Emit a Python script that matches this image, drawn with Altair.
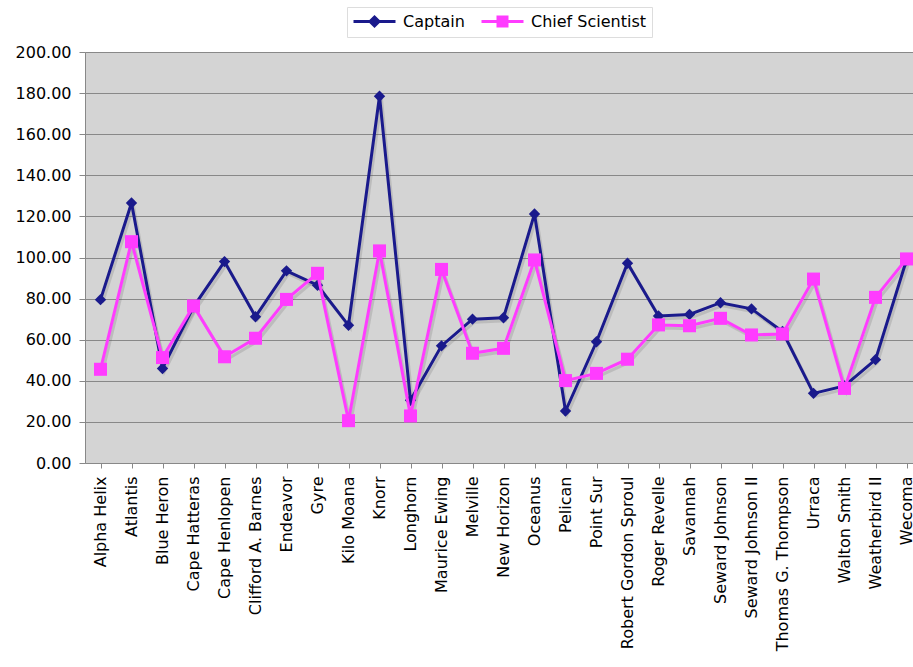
import altair as alt
import pandas as pd

ships = ["Alpha Helix", "Atlantis", "Blue Heron", "Cape Hatteras", "Cape Henlopen",
         "Clifford A. Barnes", "Endeavor", "Gyre", "Kilo Moana", "Knorr", "Longhorn",
         "Maurice Ewing", "Melville", "New Horizon", "Oceanus", "Pelican", "Point Sur",
         "Robert Gordon Sproul", "Roger Revelle", "Savannah", "Seward Johnson",
         "Seward Johnson II", "Thomas G. Thompson", "Urraca", "Walton Smith",
         "Weatherbird II", "Wecoma"]
captain = [79.5, 126.5, 46.0, 76.0, 98.0, 71.2, 93.5, 86.5, 67.0, 178.5, 30.5,
           57.0, 70.0, 70.7, 121.2, 25.3, 59.0, 97.2, 71.5, 72.3, 78.0,
           75.0, 64.0, 33.9, 37.5, 50.3, 98.8]
chief = [45.6, 107.7, 51.3, 76.4, 51.7, 60.7, 79.6, 92.3, 20.6, 103.2, 22.9,
         94.2, 53.4, 55.8, 98.8, 40.1, 43.6, 50.5, 67.2, 66.8, 70.4,
         62.3, 62.8, 89.5, 36.3, 80.6, 99.3]
series_names = ["Captain", "Chief Scientist"]
y_ticks = [0, 20, 40, 60, 80, 100, 120, 140, 160, 180, 200]

NAVY = "#1a1a8c"
MAGENTA = "#ff3cff"
colors = [NAVY, MAGENTA]

rows = []
for s, vals in zip(series_names, [captain, chief]):
    for ship, v in zip(ships, vals):
        rows.append({"ship": ship, "series": s, "value": v})
df = pd.DataFrame(rows)

FONT = "DejaVu Sans"

x_enc = alt.X("ship:N", sort=ships, title=None,
              scale=alt.Scale(domain=ships, range=[0, 837], paddingInner=0, paddingOuter=0),
              axis=alt.Axis(labelAngle=-90, labelFontSize=16, labelFont=FONT,
                            labelColor="black", labelPadding=8, tickSize=5,
                            tickColor="#888888", domainColor="#888888",
                            bandPosition=0, grid=False, labelOverlap=False))
y_enc = alt.Y("value:Q", title=None,
              scale=alt.Scale(domain=[0, 200], nice=False, zero=True),
              axis=alt.Axis(values=y_ticks, format=".2f", labelFontSize=16, labelFont=FONT,
                            labelColor="black", labelPadding=8, tickSize=6,
                            tickColor="#888888", domainColor="#888888",
                            grid=True, gridColor="#888888", gridWidth=1))

base = alt.Chart(df)

layers = []
# soft shadows
for s in series_names:
    layers.append(base.transform_filter(alt.datum.series == s)
                  .mark_line(strokeWidth=3, color="#555555", opacity=0.18,
                             xOffset=2, yOffset=3)
                  .encode(x=x_enc, y=y_enc))

shapes = ["diamond", "square"]
sizes = [130, 170]
for s, c, sh, sz in zip(series_names, colors, shapes, sizes):
    sub = base.transform_filter(alt.datum.series == s)
    layers.append(sub.mark_line(strokeWidth=3, color=c).encode(x=x_enc, y=y_enc))
    layers.append(sub.mark_point(shape=sh, size=sz, filled=True, color=c, opacity=1)
                  .encode(x=x_enc, y=y_enc))

# legend symbols: line with marker
leg_paths = [
    "M-1,0H4.25M1.625,-0.5625L2.1875,0L1.625,0.5625L1.0625,0Z",
    "M-1,0H4.25M1.0625,-0.5625H2.1875V0.5625H1.0625Z",
]
leg = alt.Legend(title=None, orient="none", legendX=262, legendY=-45,
                 direction="horizontal", symbolSize=256, symbolStrokeWidth=3,
                 labelOffset=32, labelFontSize=16, labelFont=FONT, labelColor="black",
                 columnPadding=10, padding=5, fillColor="white", strokeColor="#dddddd")
legend_layer = base.transform_filter(alt.datum.series == "none").mark_point(
    filled=True, strokeWidth=3, opacity=1).encode(
    x=x_enc, y=y_enc,
    fill=alt.Fill("series:N", scale=alt.Scale(domain=series_names, range=colors), legend=leg),
    stroke=alt.Stroke("series:N", scale=alt.Scale(domain=series_names, range=colors), legend=leg),
    shape=alt.Shape("series:N", scale=alt.Scale(domain=series_names, range=leg_paths), legend=leg),
)
layers.append(legend_layer)

chart = alt.layer(*layers).properties(
    width=828, height=411,
    autosize=alt.AutoSizeParams(type="none"),
    padding={"left": 85, "top": 52, "right": 0, "bottom": 204},
    background="white",
).configure_view(fill="#d4d4d4", stroke=None)

chart.save("out.html", embed_options={"renderer": "svg", "actions": False})
